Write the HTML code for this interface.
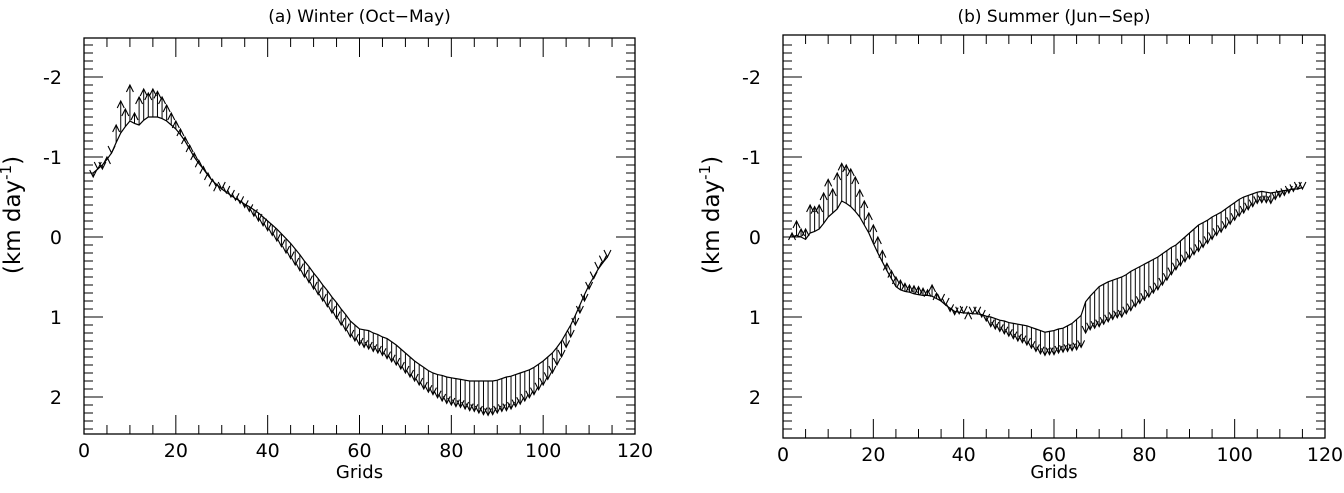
<!DOCTYPE html>
<html><head><meta charset="utf-8"><style>
body{margin:0;background:#fff;width:1344px;height:488px;overflow:hidden}
svg text{font-family:"DejaVu Sans","Liberation Sans",sans-serif;fill:#000}
</style></head><body>
<svg id="chart" width="1344" height="488" xmlns="http://www.w3.org/2000/svg"></svg>
<script>
// Panel (a) Winter: values at grids 2,3,4,...
const startA=2;
const baseA=[-0.8,-0.85,-0.9,-0.97,-1.05,-1.18,-1.3,-1.38,-1.45,-1.42,-1.4,-1.46,-1.5,-1.5,-1.5,-1.48,-1.45,-1.4,-1.35,-1.28,-1.2,-1.1,-1.0,-0.92,-0.85,-0.77,-0.7,-0.65,-0.6,-0.56,-0.52,-0.48,-0.45,-0.41,-0.38,-0.34,-0.3,-0.25,-0.2,-0.15,-0.1,-0.04,0.02,0.08,0.15,0.22,0.3,0.37,0.45,0.52,0.6,0.67,0.75,0.82,0.9,0.97,1.05,1.1,1.15,1.16,1.17,1.2,1.22,1.25,1.27,1.31,1.35,1.4,1.45,1.5,1.55,1.59,1.63,1.67,1.7,1.72,1.73,1.75,1.76,1.77,1.78,1.79,1.8,1.8,1.8,1.8,1.8,1.8,1.79,1.77,1.75,1.74,1.72,1.7,1.68,1.66,1.63,1.59,1.55,1.5,1.45,1.38,1.3,1.2,1.1,0.98,0.85,0.72,0.6,0.5,0.4,0.32,0.25];
const tipA=[-0.75,-0.85,-0.85,-1.0,-1.05,-1.4,-1.7,-1.6,-1.9,-1.55,-1.75,-1.85,-1.8,-1.85,-1.82,-1.75,-1.65,-1.55,-1.45,-1.35,-1.25,-1.15,-1.05,-0.96,-0.88,-0.8,-0.72,-0.66,-0.6,-0.55,-0.5,-0.46,-0.42,-0.37,-0.32,-0.26,-0.2,-0.14,-0.08,-0.02,0.05,0.12,0.2,0.27,0.35,0.42,0.5,0.57,0.65,0.72,0.8,0.87,0.95,1.02,1.1,1.17,1.25,1.3,1.35,1.38,1.4,1.43,1.45,1.48,1.52,1.56,1.6,1.65,1.7,1.75,1.8,1.85,1.9,1.94,1.97,2.01,2.05,2.08,2.1,2.12,2.13,2.15,2.17,2.18,2.2,2.22,2.23,2.22,2.2,2.18,2.17,2.15,2.12,2.09,2.05,2.01,1.97,1.91,1.85,1.78,1.7,1.6,1.5,1.38,1.25,1.1,0.95,0.8,0.65,0.52,0.4,0.32,0.25];
// Panel (b) Summer: values at grids 2,3,4,...
const startB=2;
const baseB=[0,-0.02,0.0,0.03,-0.05,-0.07,-0.1,-0.17,-0.25,-0.3,-0.35,-0.45,-0.42,-0.38,-0.32,-0.25,-0.15,-0.05,0.08,0.2,0.31,0.42,0.52,0.62,0.66,0.68,0.69,0.71,0.72,0.73,0.73,0.74,0.77,0.8,0.85,0.89,0.93,0.94,0.95,0.95,0.96,0.96,0.97,0.99,1.0,1.02,1.04,1.05,1.07,1.08,1.09,1.1,1.11,1.13,1.15,1.17,1.19,1.18,1.17,1.15,1.14,1.11,1.08,1.03,0.98,0.81,0.74,0.68,0.62,0.59,0.56,0.54,0.52,0.5,0.47,0.43,0.4,0.37,0.34,0.31,0.28,0.25,0.21,0.17,0.13,0.1,0.05,0.0,-0.05,-0.1,-0.15,-0.18,-0.21,-0.25,-0.28,-0.31,-0.35,-0.39,-0.43,-0.47,-0.5,-0.52,-0.54,-0.56,-0.57,-0.56,-0.55,-0.56,-0.57,-0.58,-0.59,-0.6,-0.6,-0.62];
const tipB=[-0.05,-0.2,-0.1,-0.1,-0.4,-0.38,-0.4,-0.55,-0.72,-0.6,-0.8,-0.92,-0.9,-0.85,-0.75,-0.59,-0.45,-0.3,-0.15,0,0.17,0.33,0.42,0.5,0.54,0.58,0.6,0.61,0.62,0.64,0.66,0.6,0.7,0.8,0.85,0.93,0.97,0.96,0.95,0.94,0.96,0.96,1.0,1.05,1.12,1.15,1.18,1.21,1.24,1.27,1.3,1.32,1.35,1.39,1.43,1.46,1.48,1.47,1.47,1.45,1.44,1.43,1.42,1.41,1.38,1.2,1.16,1.14,1.12,1.09,1.06,1.03,1.01,1.0,0.96,0.92,0.87,0.83,0.79,0.75,0.7,0.66,0.6,0.54,0.47,0.41,0.36,0.31,0.27,0.22,0.18,0.13,0.08,0.03,-0.02,-0.06,-0.11,-0.16,-0.21,-0.26,-0.3,-0.34,-0.38,-0.42,-0.43,-0.43,-0.42,-0.47,-0.5,-0.52,-0.55,-0.57,-0.6,-0.6];
const yTicks=[-2,-1,0,1,2];
const xTicks=[0,20,40,60,80,100,120];

const NS="http://www.w3.org/2000/svg";
const svg=document.getElementById('chart');
function mk(tag,attrs,parent){const e=document.createElementNS(NS,tag);for(const k in attrs)e.setAttribute(k,attrs[k]);(parent||svg).appendChild(e);return e;}

function panel(p){
  const g=mk('g',{});
  
  
  const X=v=>p.x0+(v/120)*(p.x1-p.x0);
  const Y=v=>p.yz+80*v;
  const frame=mk('rect',{x:p.x0,y:p.top,width:p.x1-p.x0,height:p.bot-p.top,fill:'none',stroke:'#000','stroke-width':1.3},g);
  
  
  for(let v=0;v<=120;v+=5){
    const L=(v%20===0)?19:9;
    mk('line',{x1:X(v),x2:X(v),y1:p.bot,y2:p.bot-L,stroke:'#000','stroke-width':1},g);
    mk('line',{x1:X(v),x2:X(v),y1:p.top,y2:p.top+L,stroke:'#000','stroke-width':1},g);
  }
  xTicks.forEach(v=>{const t=mk('text',{x:X(v),y:p.bot+23,'text-anchor':'middle','font-size':19},g);t.textContent=v;
    });
  for(let i=-24;i<=24;i++){
    const v=i/10;const yy=Y(v);if(yy<p.top||yy>p.bot)continue;
    const L=(i%10===0)?19:9;
    mk('line',{x1:p.x0,x2:p.x0+L,y1:yy,y2:yy,stroke:'#000','stroke-width':1},g);
    mk('line',{x1:p.x1,x2:p.x1-L,y1:yy,y2:yy,stroke:'#000','stroke-width':1},g);
  }
  yTicks.forEach(v=>{const t=mk('text',{x:p.x0-22,y:Y(v)+7,'text-anchor':'end','font-size':19},g);t.textContent=(v<0?'-':'')+Math.abs(v);
    });
  const xt=mk('text',{x:(p.x0+p.x1)/2,y:478,'text-anchor':'middle','font-size':18},g);xt.textContent='Grids';
  
  const cy=215,cx=p.x0-64;
  const yt=mk('text',{x:cx,y:cy,'text-anchor':'middle','font-size':23,transform:`rotate(-90 ${cx} ${cy})`},g);
  yt.innerHTML='(km day<tspan dy="-9" font-size="15">-1</tspan><tspan dy="9">)</tspan>';
  
  const tt=mk('text',{x:(p.x0+p.x1)/2,y:22,'text-anchor':'middle','font-size':17},g);tt.textContent=p.title;
  
  const line=mk('polyline',{points:p.b.map((v,i)=>X(p.s+i)+','+Y(v)).join(' '),fill:'none',stroke:'#000','stroke-width':1.2},g);
  
  p.b.forEach((bv,i)=>{
    const x=X(p.s+i),y1=Y(bv),y2=Y(p.t[i]);
    const a=mk('g',{},g);
    
    
    mk('line',{x1:x,x2:x,y1:y1,y2:y2,stroke:'#000','stroke-width':1},a);
    const d=y2<y1?1:-1;
    mk('polyline',{points:`${x-3.5},${y2+7*d} ${x},${y2} ${x+3.5},${y2+7*d}`,fill:'none',stroke:'#000','stroke-width':1.1},a);
  });
}
panel({name:'winter-panel',title:'(a) Winter (Oct\u2212May)',x0:84,x1:635,top:38,bot:434,yz:237,s:startA,b:baseA,t:tipA});
panel({name:'summer-panel',title:'(b) Summer (Jun\u2212Sep)',x0:783,x1:1325,top:35,bot:438,yz:237,s:startB,b:baseB,t:tipB});
</script>
</body></html>
